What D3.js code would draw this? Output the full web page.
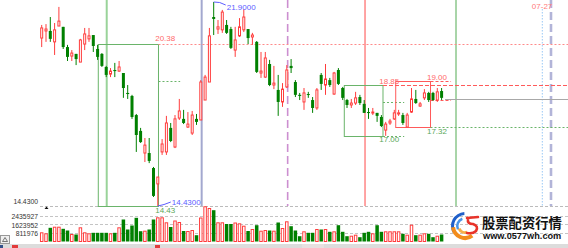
<!DOCTYPE html>
<html>
<head>
<meta charset="utf-8">
<script src="https://cdn.jsdelivr.net/npm/d3@7"></script>
<style>
body{margin:0;background:#fff;overflow:hidden}
text{font-family:"Liberation Sans",Arial,sans-serif}
</style>
</head>
<body>
<div id="canvas"></div>
<script>
var w = 568;
var h = 248;

// daily candles, oldest first
var openP = [20.58,20.84,20.84,20.44,21.02,20.99,20.25,19.92,20.00,19.70,
	20.36,20.55,20.69,20.18,20.00,19.52,19.26,19.41,19.37,19.30,
	18.57,18.46,17.76,17.18,16.37,16.37,15.82,15.24,16.41,16.41,
	17.29,16.59,17.65,17.62,17.32,17.10,17.62,17.58,18.31,18.97,
	21.35,20.91,20.88,21.06,20.91,20.14,20.66,20.88,20.91,20.62,
	20.44,19.30,19.15,19.63,18.86,18.68,18.24,18.79,19.56,18.97,
	18.50,18.24,18.53,18.31,18.02,19.23,18.86,19.04,18.53,19.41,
	18.75,18.31,18.13,18.20,18.42,18.17,17.87,17.84,17.84,17.69,
	17.21,17.47,17.62,17.80,17.76,17.32,17.87,18.35,18.09,18.39,
	18.57,18.57,18.31,18.64];
var closeP = [20.95,20.91,20.55,20.88,21.20,20.25,19.89,20.03,19.81,20.51,
	20.73,20.66,20.29,19.89,19.56,19.23,19.37,19.37,19.52,18.75,
	18.53,17.69,17.03,16.77,16.66,16.08,14.80,15.49,16.70,17.47,
	16.81,17.62,17.91,17.47,17.43,17.76,17.51,18.97,19.15,20.66,
	21.28,20.99,21.53,20.77,20.22,20.51,20.99,21.35,20.58,20.69,
	19.34,19.37,19.85,18.86,18.93,18.24,18.71,19.41,19.48,18.50,
	18.46,18.57,18.50,18.02,18.68,18.90,19.08,18.86,19.30,18.90,
	18.39,18.13,18.20,18.39,18.20,17.84,17.84,17.87,17.73,17.36,
	17.43,17.54,17.84,17.84,17.47,17.76,18.35,18.20,18.17,18.57,
	18.31,18.31,18.61,18.39];
var highP = [21.06,21.09,21.35,21.13,21.72,20.99,20.33,20.14,20.00,20.55,
	20.95,20.95,20.69,20.33,20.03,19.56,19.48,19.67,19.74,19.30,
	18.86,18.50,17.80,17.29,16.92,16.92,15.86,15.49,16.88,17.73,
	17.47,17.76,18.35,17.95,17.87,17.91,17.80,19.04,19.23,20.95,
	21.90,21.24,21.61,21.24,20.99,20.99,21.31,21.64,20.91,20.77,
	20.47,20.07,20.07,19.78,19.56,19.23,18.93,19.59,19.81,19.04,
	18.57,18.75,18.61,18.42,18.75,19.30,19.63,19.12,19.34,19.48,
	18.79,18.35,18.35,18.61,18.50,18.31,18.02,18.02,17.84,17.76,
	17.51,17.62,17.95,17.95,17.84,17.84,18.75,18.68,18.24,18.71,
	18.61,18.61,18.75,18.75];
var lowP = [20.25,20.44,20.44,19.96,21.02,20.18,19.74,19.74,19.59,19.70,
	20.14,20.44,20.07,19.78,19.52,19.15,19.15,19.15,19.34,18.39,
	18.35,17.62,16.41,16.74,16.04,16.00,14.76,14.43,16.30,16.30,
	16.77,16.55,17.58,17.43,17.29,17.03,17.40,17.58,18.31,18.97,
	20.69,20.73,20.77,20.73,20.18,19.89,20.62,20.80,20.36,20.33,
	19.30,19.12,19.12,18.82,18.71,17.73,18.06,18.75,19.30,18.42,
	18.31,17.95,18.39,17.84,17.95,18.68,18.50,18.79,18.50,18.86,
	18.31,18.02,18.02,18.13,18.13,17.84,17.62,17.76,17.51,17.32,
	17.00,17.40,17.58,17.73,17.40,17.32,17.84,18.17,18.06,18.31,
	18.24,18.28,18.24,18.31];
var volume = [821000,727000,1293000,1350000,1350000,1199000,1038000,661000,661000,1293000,
	821000,727000,821000,821000,821000,821000,727000,821000,1293000,2077000,
	1133000,1510000,2237000,972000,972000,1133000,2077000,2237000,2237000,1765000,
	1369000,1935000,1794000,991000,944000,1038000,595000,2218000,3280000,3115000,
	2955000,1765000,1765000,1652000,1652000,1746000,1671000,1444000,991000,1133000,
	1539000,972000,1038000,1038000,972000,1794000,1227000,1860000,1444000,1038000,
	500000,916000,821000,821000,1133000,1133000,1133000,916000,916000,1539000,
	916000,500000,500000,595000,406000,821000,916000,727000,1539000,916000,
	916000,916000,916000,916000,727000,595000,1539000,595000,595000,727000,
	727000,406000,500000,661000];

var volTicks = [811976, 1623952, 2435927];
var priceLow = 14.43, priceHigh = 21.90;

var days = d3.range(openP.length);
var candles = days.map(function(i){
	return {i:i, o:openP[i], c:closeP[i], hi:highP[i], lo:lowP[i], v:volume[i], up:closeP[i] >= openP[i]};
});

var svg = d3.select("#canvas").append("svg")
	.attr("width", w)
	.attr("height", h)
	.style("display","block")
	.style("background-color","white");

var x = d3.scaleLinear().domain([0, days.length-1]).range([41.7, 441.6]);
var y = d3.scaleLinear().domain([priceLow, priceHigh]).range([206, 2]);
var yv = d3.scaleLinear().domain([0, volTicks[2]]).range([241.5, 215.7]);

var red = "#ff3c3c";
var green = "#008000";

// ---- grid lines of the volume panel
svg.append("line")
	.attr("x1", 40).attr("x2", w)
	.attr("y1", y(priceLow)+0.5).attr("y2", y(priceLow)+0.5)
	.attr("stroke","#bbb").attr("stroke-dasharray","3,2");
svg.selectAll(".vgrid")
	.data(volTicks)
	.join("line")
	.attr("class","vgrid")
	.attr("x1", 40).attr("x2", w)
	.attr("y1", function(d){ return Math.round(yv(d))+0.5; })
	.attr("y2", function(d){ return Math.round(yv(d))+0.5; })
	.attr("stroke","#c4c4c4").attr("stroke-dasharray","3,2");

svg.append("text")
	.attr("x", 38).attr("y", y(priceLow)-2)
	.attr("text-anchor","end")
	.style("font-size","6.8px").attr("fill","#333")
	.text("14.4300");
svg.selectAll(".vlab")
	.data(volTicks)
	.join("text")
	.attr("class","vlab")
	.attr("x", 38)
	.attr("y", function(d){ return yv(d)+3.4; })
	.attr("text-anchor","end")
	.style("font-size","6.8px").attr("fill","#333")
	.text(function(d){ return d; });

// little marker under the low
svg.append("path")
	.attr("d","M44.5,209 L46.5,206.5 L48.5,209 Z")
	.attr("fill","#111");

// ---- annotation lines (drawn before candles)
var ann = svg.append("g");
function vline(idx, y1, y2, col, sw, dash, op){
	ann.append("line")
		.attr("x1", x(idx)).attr("x2", x(idx))
		.attr("y1", y1).attr("y2", y2)
		.attr("stroke", col).attr("stroke-width", sw)
		.attr("stroke-dasharray", dash || null)
		.attr("opacity", op || 1);
}
function hline(i1, i2, p, col, dash){
	ann.append("line")
		.attr("x1", x(i1)).attr("x2", i2 == null ? w : x(i2))
		.attr("y1", Math.round(y(p))+0.5).attr("y2", Math.round(y(p))+0.5)
		.attr("stroke", col).attr("stroke-width", 1)
		.attr("stroke-dasharray", dash || null);
}
function box(i1, i2, p1, p2, col){
	ann.append("rect")
		.attr("x", x(i1)).attr("y", Math.round(y(p1))+0.5)
		.attr("width", x(i2)-x(i1))
		.attr("height", Math.round(y(p2))-Math.round(y(p1)))
		.attr("fill","none").attr("stroke", col);
}

vline(15.12, 0, y(priceLow), "#8fcf8f", 2, null, 0.9);
vline(37.2, 0, y(priceLow), "#a3a8cf", 2);
vline(57.2, 0, y(priceLow), "#cc8fd0", 1.6, "8,4");
vline(75.19, 0, y(priceLow), "#ff4a4a", 1);
vline(96.35, 0, y(priceLow), "#6fb96f", 1.2);
vline(116.42, 9, y(priceLow), "#99c8f5", 1, "1.5,1.5");
vline(118.44, 0, y(priceLow), "#b2b4d8", 2.6, "8,4");

box(13.16, 27.16, 20.38, priceLow, "#6ab46a");
hline(27.16, null, 20.38, "#ff8a8a", "2,2");
hline(27.16, 32.2, 19.00, "#6ab46a", "2,2");

box(70.37, 79.37, 18.85, 17.00, "#6ab46a");
hline(79.37, null, 18.85, "#ff5a5a", "4,2");
hline(79.37, 84.3, 18.22, "#6ab46a", "2,2");
hline(79.37, 84.3, 17.00, "#6ab46a", "2,2");

box(82.33, 90.42, 19.00, 17.32, "#ff5a5a");
hline(90.42, 95.2, 19.00, "#ff5a5a", "3,2");
hline(90.42, 95.2, 18.31, "#ff5a5a", "3,2");
hline(93.8, null, 18.35, "#a8a8a8");
hline(90.42, null, 17.32, "#6ab46a", "2,2");

// ---- candles
var cg = svg.append("g");
cg.selectAll(".wick")
	.data(candles)
	.join("line")
	.attr("class","wick")
	.attr("x1", function(d){ return x(d.i); })
	.attr("x2", function(d){ return x(d.i); })
	.attr("y1", function(d){ return y(d.hi); })
	.attr("y2", function(d){ return y(d.lo); })
	.attr("stroke", function(d){ return d.up ? red : green; })
	.attr("stroke-width", 1);

cg.selectAll(".body")
	.data(candles)
	.join("rect")
	.attr("class","body")
	.attr("x", function(d){ return d.up ? x(d.i)-1 : x(d.i)-1.5; })
	.attr("width", function(d){ return d.up ? 2 : 3; })
	.attr("y", function(d){ return y(Math.max(d.o, d.c)); })
	.attr("height", function(d){ return Math.max(1, Math.abs(y(d.o)-y(d.c))); })
	.attr("fill", function(d){ return d.up ? "white" : green; })
	.attr("stroke", function(d){ return d.up ? red : "none"; })
	.attr("stroke-width", 1);

// ---- volume
cg.selectAll(".vol")
	.data(candles)
	.join("rect")
	.attr("class","vol")
	.attr("x", function(d){ return d.up ? x(d.i)-1.25 : x(d.i)-1.75; })
	.attr("width", function(d){ return d.up ? 2.5 : 3.5; })
	.attr("y", function(d){ return yv(d.v); })
	.attr("height", function(d){ return yv(0)-yv(d.v); })
	.attr("fill", function(d){ return d.up ? "white" : green; })
	.attr("stroke", function(d){ return d.up ? red : "none"; })
	.attr("stroke-width", 1);

// ---- price labels
function label(px, py, txt, col){
	svg.append("text")
		.attr("x", px).attr("y", py)
		.style("font-size","8px")
		.attr("fill", col)
		.text(txt);
}
label(x(26.4), y(20.38)-2.5, "20.38", "#ff6a6a");
label(x(26.4), y(priceLow)+7, "14.43", "#5aa85a");
label(x(78.5), y(18.85)-1.5, "18.85", "#ff6a6a");
label(x(78.5), y(17.00)+6, "17.00", "#5aa85a");
label(x(89.6), y(19.00)-1.5, "19.00", "#ff6a6a");
label(x(89.6), y(17.32)+7, "17.32", "#5aa85a");
label(x(113.99), 8.7, "07-27", "#ff7a7a");

// high / low callouts
var lowI = lowP.indexOf(d3.min(lowP));
var highI = highP.indexOf(d3.max(highP));
svg.append("path")
	.attr("d", "M" + x(lowI) + "," + y(lowP[lowI]) + " Q" + (x(lowI)+6) + "," + (y(lowP[lowI])-1) + " " + (x(lowI)+13) + "," + (y(lowP[lowI])-4))
	.attr("fill","none").attr("stroke","#5c5cff");
label(x(lowI)+14, y(lowP[lowI])-1, d3.format(".4f")(lowP[lowI]), "#5c5cff");
svg.append("path")
	.attr("d", "M" + x(highI) + "," + y(highP[highI]) + " Q" + (x(highI)+6) + "," + (y(highP[highI])-0.5) + " " + (x(highI)+12) + "," + (y(highP[highI])+3))
	.attr("fill","none").attr("stroke","#5c5cff");
label(x(highI)+13, y(highP[highI])+8, d3.format(".4f")(highP[highI]), "#5c5cff");

// ---- logo
var logo = svg.append("g").attr("transform","translate(465,226)");
var arc = d3.arc();
logo.append("path").attr("d", arc({innerRadius:11, outerRadius:14, startAngle:-2.1, endAngle:-0.05})).attr("fill","#1f5fc9");
logo.append("path").attr("d", arc({innerRadius:6.5, outerRadius:9, startAngle:-2.0, endAngle:-0.35})).attr("fill","#4a95e8");
logo.append("path").attr("d", arc({innerRadius:10, outerRadius:14, startAngle:2.5, endAngle:4.6})).attr("fill","#f28c1c");
logo.append("path").attr("d", arc({innerRadius:5, outerRadius:8, startAngle:2.8, endAngle:4.3})).attr("fill","#f6b04a");
logo.append("path")
	.attr("d","M2,-8 L13,-9 M3,-7 Q2,-2 8,-2 Q14,0 11,5 Q8,8 2,7")
	.attr("fill","none").attr("stroke","#e8332a").attr("stroke-width",2.6).attr("stroke-linecap","round");

svg.append("text")
	.attr("x", 482).attr("y", 228)
	.style("font-family","'Noto Sans CJK SC',sans-serif")
	.style("font-size","13.3px").style("font-weight","bold")
	.attr("fill","#111")
	.text("股票配资行情");
svg.append("text")
	.attr("x", 483).attr("y", 238.5)
	.style("font-size","9.2px").style("font-weight","bold")
	.attr("fill","#111")
	.text("www.0577wh.com");

// ---- bottom toolbar
svg.append("rect").attr("x",0).attr("y",244).attr("width",w).attr("height",4).attr("fill","#dcdcdc");
svg.append("rect").attr("x",0).attr("y",245).attr("width",3).attr("height",3).attr("fill","#33508a");
svg.append("rect").attr("x",12).attr("y",245).attr("width",6).attr("height",3).attr("fill","#e23b3b");
svg.append("rect").attr("x",155).attr("y",245).attr("width",5).attr("height",3).attr("fill","#e23b3b");
svg.append("rect").attr("x",302).attr("y",244).attr("width",22).attr("height",4).attr("fill","#e8e0e0");
svg.append("rect").attr("x",0.5).attr("y",235.5).attr("width",9).attr("height",8).attr("fill","#f0f0f0").attr("stroke","#999");
svg.append("path").attr("d","M2.5,241.5 L5,237.5 L7.5,241.5 Z").attr("fill","none").attr("stroke","#555").attr("stroke-width",0.8);
</script>
</body>
</html>
